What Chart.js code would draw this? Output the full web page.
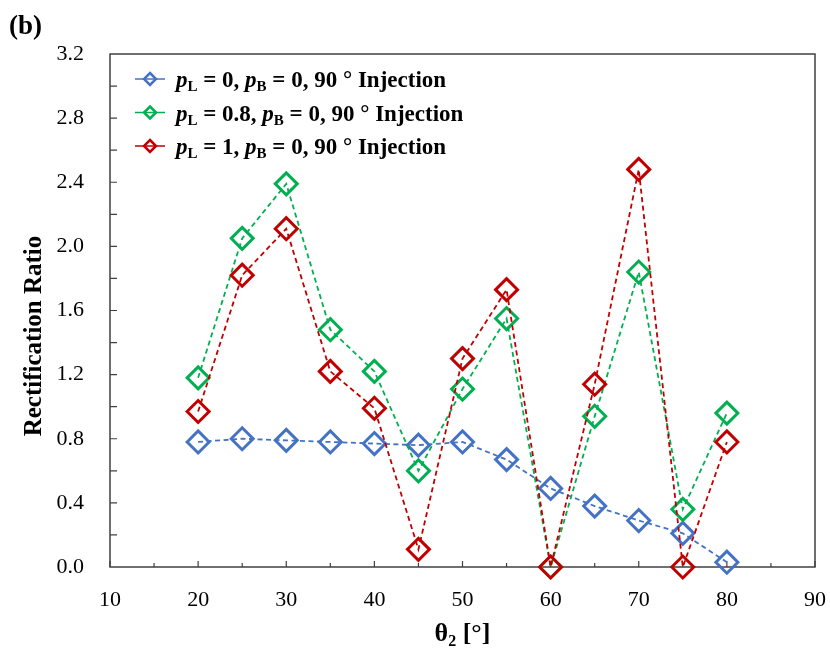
<!DOCTYPE html>
<html>
<head>
<meta charset="utf-8">
<script src="https://cdn.jsdelivr.net/npm/chart.js@4.4.1/dist/chart.umd.min.js"></script>
<style>
  html, body { margin: 0; padding: 0; background: #fff; }
  #wrap { width: 830px; height: 661px; position: relative; }
</style>
</head>
<body>
<div id="wrap"><canvas id="chartRatio"></canvas></div>
<script>
// injection angle theta_2 in degrees
const theta = [20, 25, 30, 35, 40, 45, 50, 55, 60, 65, 70, 75, 80];

// rectification ratio for each porosity case
const ratioL0 = [0.78, 0.80, 0.79, 0.78, 0.77, 0.76, 0.78, 0.67, 0.49, 0.38, 0.29, 0.21, 0.03];
const ratioL08 = [1.18, 2.05, 2.39, 1.48, 1.22, 0.60, 1.11, 1.55, 0.00, 0.94, 1.84, 0.36, 0.96];
const ratioL1 = [0.97, 1.82, 2.11, 1.22, 0.99, 0.11, 1.30, 1.73, 0.00, 1.14, 2.48, 0.00, 0.78];

const xTicks = [10, 20, 30, 40, 50, 60, 70, 80, 90];
const yTicks = [0.0, 0.4, 0.8, 1.2, 1.6, 2.0, 2.4, 2.8, 3.2];

const legendRows = [
  { pl: "0", color: "#4472C4" },
  { pl: "0.8", color: "#00B050" },
  { pl: "1", color: "#C00000" },
];

const SERIF = "'Liberation Serif', 'Times New Roman', serif";
const AXIS = "#404040";

function toPoints(ys) {
  return theta.map((t, i) => ({ x: t, y: ys[i] }));
}

function series(label, ys, color, order) {
  return {
    label: label,
    data: toPoints(ys),
    borderColor: color,
    borderWidth: 1.8,
    borderDash: [5, 3.5],
    pointStyle: "rectRot",
    pointRadius: 11,
    pointHoverRadius: 11,
    pointBorderWidth: 3,
    pointBorderColor: color,
    pointBackgroundColor: "rgba(0,0,0,0)",
    tension: 0,
    clip: false,
    order: order,
  };
}

// draws a run of text pieces, each with its own font and baseline shift
function drawRuns(ctx, x, y, runs) {
  ctx.textBaseline = "alphabetic";
  ctx.textAlign = "left";
  runs.forEach((r) => {
    ctx.font = r.font;
    ctx.fillText(r.t, x, y + (r.dy || 0));
    x += ctx.measureText(r.t).width;
  });
  return x;
}

const frameAndTicks = {
  id: "frameAndTicks",
  beforeDatasetsDraw(chart) {
    const { ctx, chartArea: a, scales } = chart;
    ctx.save();
    ctx.strokeStyle = AXIS;
    ctx.lineWidth = 1.5;
    ctx.strokeRect(a.left, a.top, a.right - a.left, a.bottom - a.top);

    ctx.lineWidth = 1.2;
    ctx.beginPath();
    for (let v = 10; v <= 90; v += 5) {
      const px = scales.x.getPixelForValue(v);
      const len = v % 10 === 0 ? 6 : 4;
      ctx.moveTo(px, a.bottom);
      ctx.lineTo(px, a.bottom - len);
    }
    for (let k = 1; k < 16; k++) {
      const py = scales.y.getPixelForValue(k * 0.2);
      ctx.moveTo(a.left, py);
      ctx.lineTo(a.left + 7, py);
    }
    ctx.stroke();
    ctx.restore();
  },
  afterDraw(chart) {
    const { ctx, chartArea: a } = chart;
    ctx.save();
    ctx.fillStyle = "#000";

    // panel tag
    drawRuns(ctx, 9, 34, [{ t: "(b)", font: "bold 27px " + SERIF }]);

    // x axis title
    const b = "bold 26px " + SERIF;
    const s = "bold 16px " + SERIF;
    const parts = [
      { t: "\u03b8", font: b },
      { t: "2", font: s, dy: 5 },
      { t: " [\u00b0]", font: b },
    ];
    let w = 0;
    parts.forEach((p) => { ctx.font = p.font; w += ctx.measureText(p.t).width; });
    drawRuns(ctx, (a.left + a.right) / 2 - w / 2, 641, parts);

    // y axis title
    ctx.save();
    ctx.translate(41, 336);
    ctx.rotate(-Math.PI / 2);
    ctx.font = "bold 25px " + SERIF;
    ctx.textAlign = "center";
    ctx.textBaseline = "alphabetic";
    ctx.fillText("Rectification Ratio", 0, 0);
    ctx.restore();

    // legend
    const lf = "bold 23px " + SERIF;
    const li = "italic bold 23px " + SERIF;
    const ls = "bold 15px " + SERIF;
    legendRows.forEach((row, i) => {
      const cy = 79 + i * 33.5;
      ctx.strokeStyle = row.color;
      ctx.lineWidth = 1.5;
      ctx.beginPath();
      ctx.moveTo(135, cy);
      ctx.lineTo(165, cy);
      ctx.stroke();
      const r = 6;
      ctx.lineWidth = 2.5;
      ctx.beginPath();
      ctx.moveTo(150, cy - r);
      ctx.lineTo(150 + r, cy);
      ctx.lineTo(150, cy + r);
      ctx.lineTo(150 - r, cy);
      ctx.closePath();
      ctx.stroke();

      ctx.fillStyle = "#000";
      drawRuns(ctx, 176, cy + 8, [
        { t: "p", font: li },
        { t: "L", font: ls, dy: 4 },
        { t: " = " + row.pl + ", ", font: lf },
        { t: "p", font: li },
        { t: "B", font: ls, dy: 4 },
        { t: " = 0, 90 \u00b0 Injection", font: lf },
      ]);
    });
    ctx.restore();
  },
};

const ctx = document.getElementById("chartRatio");

new Chart(ctx, {
  type: "line",
  data: {
    datasets: [
      series("pL = 0, pB = 0, 90 ° Injection", ratioL0, "#4472C4", 2),
      series("pL = 0.8, pB = 0, 90 ° Injection", ratioL08, "#00B050", 1),
      series("pL = 1, pB = 0, 90 ° Injection", ratioL1, "#C00000", 0),
    ],
  },
  options: {
    responsive: true,
    maintainAspectRatio: false,
    animation: false,
    layout: { padding: { left: 0, top: 54, right: 15, bottom: 0 } },
    plugins: {
      legend: { display: false },
      tooltip: { enabled: false },
    },
    scales: {
      x: {
        type: "linear",
        min: 10,
        max: 90,
        afterFit(scale) {
          scale.height = 94;
          scale.paddingLeft = 0;
          scale.paddingRight = 0;
        },
        afterBuildTicks(scale) { scale.ticks = xTicks.map((v) => ({ value: v })); },
        grid: { display: false },
        border: { display: false },
        ticks: {
          padding: 12,
          color: "#000",
          font: { family: SERIF, size: 22 },
          callback: (v) => String(v),
        },
      },
      y: {
        min: 0,
        max: 3.2,
        afterFit(scale) {
          scale.width = 110;
          scale.paddingTop = 0;
          scale.paddingBottom = 0;
        },
        afterBuildTicks(scale) { scale.ticks = yTicks.map((v) => ({ value: v })); },
        grid: { display: false },
        border: { display: false },
        ticks: {
          padding: 18,
          color: "#000",
          font: { family: SERIF, size: 22 },
          callback: (v) => Number(v).toFixed(1),
        },
      },
    },
  },
  plugins: [frameAndTicks],
});
</script>
</body>
</html>
